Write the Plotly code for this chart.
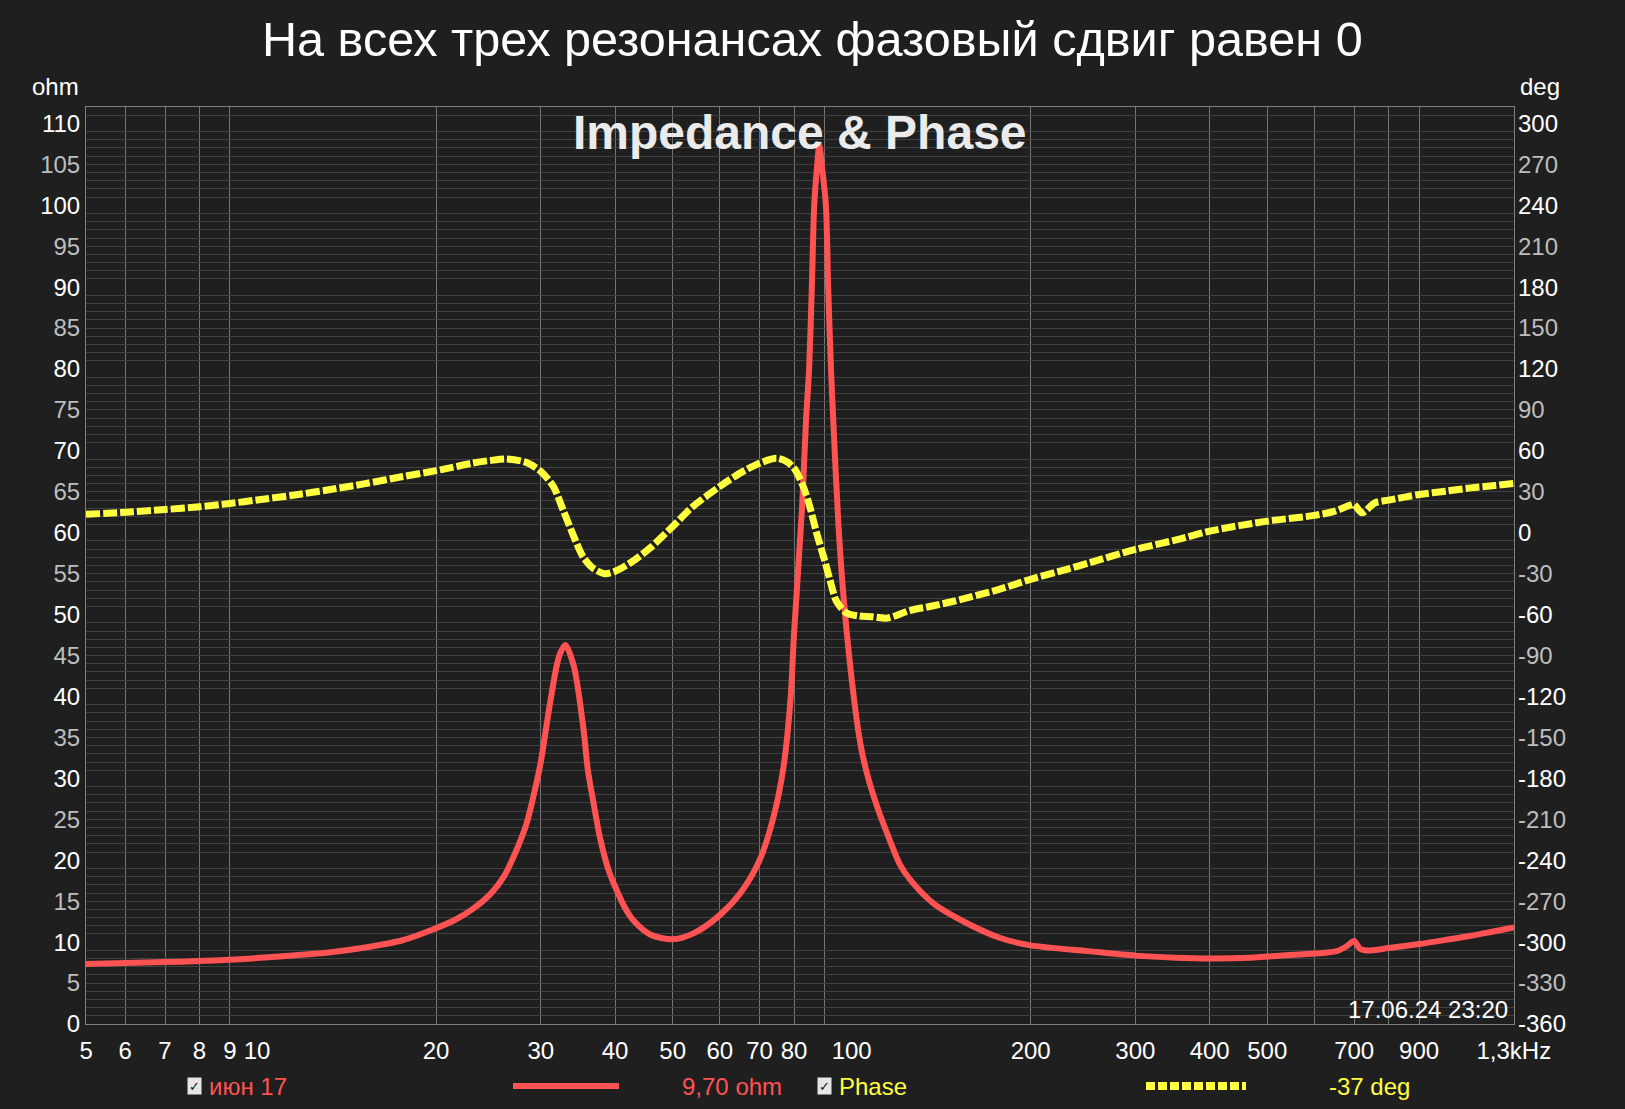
import math
import plotly.graph_objects as go

# ---------------- data ----------------
imp_freq = [5.155, 6, 7, 8, 9, 10, 11.5, 13.2, 15.2, 17.5, 20, 21.5, 23.0, 24.7, 26.0,
            27.4, 28.4, 29.2, 30.0, 31.1, 32.2, 33.0, 34.1, 35.4, 36.0, 36.8, 37.8, 39.0, 40,
            41.5, 43.0, 45.9, 50, 54.3, 60, 65, 70, 73.9, 76.8, 78.9, 80, 82.5, 83.8, 84.8,
            85.7, 86.5, 87.4, 88.2, 89.2, 90.5, 91.3, 92.3, 93.1, 95.0, 97.0, 100.8, 103.4,
            106.1, 110.3, 114.7, 120.7, 125.5, 137.4, 156.3, 177.8, 200, 250, 300, 350, 400,
            468, 500, 600, 654, 680, 700, 716, 735, 800, 900, 1000, 1100, 1200, 1300]
imp_ohm = [7.32, 7.44, 7.56, 7.68, 7.85, 8.05, 8.37, 8.74, 9.35, 10.2, 11.7, 12.7, 14.0, 15.9, 18.0,
           21.5, 24.5, 28.0, 32.0, 39.2, 44.9, 46.3, 43.7, 36.0, 31.0, 27.0, 22.5, 18.8, 16.8,
           14.3, 12.6, 10.9, 10.35, 11.1, 13.3, 16.0, 20.0, 25.3, 31.4, 39.6, 47.7, 63.0, 73.8, 80.0,
           90.0, 100.0, 104.5, 107.3, 104.5, 100.0, 90.0, 80.0, 73.8, 61.0, 51.8, 40.0, 34.3,
           30.6, 26.6, 23.3, 19.4, 17.6, 14.7, 12.3, 10.5, 9.6, 8.9, 8.35, 8.1, 8.0,
           8.1, 8.25, 8.6, 8.9, 9.5, 10.15, 9.2, 8.98, 9.27, 9.76, 10.28, 10.77, 11.3, 11.79]

phase_freq = [5.155, 6, 7, 8, 9, 10, 11.5, 13.2, 15.2, 17.5, 20, 21.1, 23.0, 24.7, 26.3,
              28.4, 30, 31.5, 32.7, 34.0, 35.3, 36.7, 38.4, 40, 42.4, 45.8, 50, 54.1, 60,
              64.9, 70, 74.7, 77.7, 80, 82.9, 85, 87.3, 90, 91.9, 94.3, 98.0, 103, 108,
              114.9, 125.3, 136.6, 149, 177, 200, 230, 251, 300, 354, 400, 500, 600, 650,
              690, 700, 721, 759, 800, 900, 1000, 1100, 1206, 1300]
phase_deg = [13.5, 15.0, 17.0, 19.0, 21.5, 24.0, 27.5, 31.5, 36.0, 41.0, 45.5, 47.5, 51.0, 53.0, 54.0,
             51.5, 44.9, 33.9, 16.8, -1.5, -17.3, -25.9, -30.0, -28.3, -22.2, -11.2, 4.6, 19.3, 33.9,
             43.7, 51.0, 54.6, 52.2, 47.3, 33.9, 19.3, -0.2, -19.8, -34.4, -50.2, -58.8, -61.0, -61.5,
             -62.5, -57.0, -53.7, -50.0, -41.5, -34.1, -26.8, -22.0, -12.2, -4.9, 1.2, 8.5, 12.7, 15.9,
             20.2, 20.7, 14.6, 22.0, 23.9, 28.0, 30.5, 32.9, 34.6, 36.1]

x_tick_vals = [5.16, 6, 7, 8, 9, 10, 20, 30, 40, 50, 60, 70, 80, 100, 200, 300, 400, 500, 700, 900, 1299]
x_tick_text = ["5", "6", "7", "8", "9", "10", "20", "30", "40", "50", "60", "70", "80", "100",
               "200", "300", "400", "500", "700", "900", "1,3kHz"]
x_grid_minor = [6, 7, 8, 9, 20, 30, 40, 50, 60, 70, 80, 90, 200, 300, 400, 500, 600, 700, 800, 900]
x_grid_major = [10, 100, 1000]
x_grid_dim = [1100, 1200]

ohm_tick_vals = list(range(0, 111, 5))
ohm_grid_major = list(range(0, 111, 10))
ohm_grid_minor = [v for v in range(1, 112) if v % 10 != 0]
deg_tick_vals = list(range(-360, 301, 30))

X_RANGE = [math.log10(5.155), math.log10(1300)]
OHM_RANGE = [0, 112]
DEG_RANGE = [-360, 312]

# ---------------- layout helpers ----------------
W, H = 1625, 1109
L, R, T, B = 86, 111, 107, 85
PW, PH = W - L - R, H - T - B
FONT = "Liberation Sans, Arial, sans-serif"
BG = "#1f1f1f"
RED = "#ff5252"
YEL = "#ffff40"


def px(x):
    return (x - L) / PW


def py(y):
    return (H - B - y) / PH


def colored(v, white):
    c = "#ffffff" if white else "#bdbdbd"
    return f'<span style="color:{c}">{v}</span>'


ohm_tick_text = [colored(v, v % 10 == 0) for v in ohm_tick_vals]
deg_tick_text = [colored(v, v % 60 == 0) for v in deg_tick_vals]

fig = go.Figure()
fig.add_trace(go.Scatter(x=phase_freq, y=phase_deg, xaxis="x", yaxis="y2", mode="lines",
                         line=dict(color=YEL, width=7, dash="14px,3px", shape="spline", smoothing=0.8),
                         hoverinfo="skip"))
fig.add_trace(go.Scatter(x=imp_freq, y=imp_ohm, xaxis="x", yaxis="y", mode="lines",
                         line=dict(color=RED, width=6, shape="spline", smoothing=0.8),
                         hoverinfo="skip"))

tickfont = dict(family=FONT, size=24, color="#ffffff")

fig.update_layout(
    width=W, height=H,
    margin=dict(l=L, r=R, t=T, b=B, autoexpand=False),
    paper_bgcolor=BG, plot_bgcolor=BG,
    showlegend=False,
    xaxis=dict(type="log", range=X_RANGE, tickmode="array", tickvals=x_tick_vals, ticktext=x_tick_text,
               showgrid=False, ticks="", tickfont=tickfont, zeroline=False, ticklabelstandoff=5,
               showline=True, mirror=True, linecolor="#808080", linewidth=1,
               minor=dict(tickmode="array", tickvals=x_grid_minor, showgrid=True,
                          gridcolor="#767676", gridwidth=1, ticks="")),
    xaxis2=dict(type="log", range=X_RANGE, overlaying="x", anchor="y", tickmode="array",
                tickvals=x_grid_major, showticklabels=False, showgrid=True, gridcolor="#d0d0d0",
                gridwidth=1, ticks="", zeroline=False, showline=False,
                minor=dict(tickmode="array", tickvals=x_grid_dim, showgrid=True,
                           gridcolor="#4a4a4a", gridwidth=1, ticks="")),
    yaxis=dict(range=OHM_RANGE, tickmode="array", tickvals=ohm_tick_vals, ticktext=ohm_tick_text,
               showgrid=False, ticks="", tickfont=tickfont, zeroline=False,
               showline=True, mirror=True, linecolor="#808080", linewidth=1,
               minor=dict(tickmode="array", tickvals=ohm_grid_minor, showgrid=True,
                          gridcolor="#404040", gridwidth=1, ticks="")),
    yaxis2=dict(range=DEG_RANGE, overlaying="y", side="right", anchor="x", tickmode="array",
                tickvals=deg_tick_vals, ticktext=deg_tick_text, showgrid=False, ticks="",
                tickfont=tickfont, zeroline=False, showline=False, ticklabelstandoff=3),
    yaxis3=dict(range=OHM_RANGE, overlaying="y", side="left", anchor="x", tickmode="array",
                tickvals=ohm_grid_major, showticklabels=False, showgrid=True, gridcolor="#7a7a7a",
                gridwidth=1, ticks="", zeroline=False, showline=False),
)

ann = []


def text(x, y, s, size=24, color="#ffffff", xanchor="center", yanchor="middle", **kw):
    ann.append(dict(x=px(x), y=py(y), xref="paper", yref="paper", text=s, showarrow=False,
                    xanchor=xanchor, yanchor=yanchor,
                    font=dict(family=FONT, size=size, color=color), **kw))


def checkbox(x, y):
    ann.append(dict(x=px(x), y=py(y), xref="paper", yref="paper", text="✓", showarrow=False,
                    xanchor="center", yanchor="middle", width=13, height=16, bgcolor="#e6e6e6",
                    borderpad=0, font=dict(family="DejaVu Sans", size=13, color="#111111")))


text(812, 39, "На всех трех резонансах фазовый сдвиг равен 0", size=48.6)
text(800, 133, "<b>Impedance &amp; Phase</b>", size=48, color="#ebebeb")
text(81, 86, "ohm", xanchor="right")
text(1518, 86, "deg", xanchor="left")
text(1510, 1009, "17.06.24 23:20", xanchor="right")
# legend row
checkbox(194, 1086)
text(207, 1086, "июн 17", color=RED, xanchor="left")
text(680, 1086, "9,70 ohm", color=RED, xanchor="left")
checkbox(824, 1086)
text(837, 1086, "Phase", color=YEL, xanchor="left")
text(1327, 1086, "-37 deg", color=YEL, xanchor="left")

shapes = [
    dict(type="line", xref="paper", yref="paper", x0=px(513), x1=px(619), y0=py(1086), y1=py(1086),
         line=dict(color=RED, width=6)),
    dict(type="line", xref="paper", yref="paper", x0=px(1146), x1=px(1246), y0=py(1086), y1=py(1086),
         line=dict(color=YEL, width=8, dash="9px,3px")),
]

fig.update_layout(annotations=ann, shapes=shapes)
fig.write_html("out.html",
               config={"displayModeBar": False},
               post_script="document.body.style.margin='0px';"
                           "document.body.style.backgroundColor='#1f1f1f';"
                           "document.documentElement.style.overflow='hidden';")
